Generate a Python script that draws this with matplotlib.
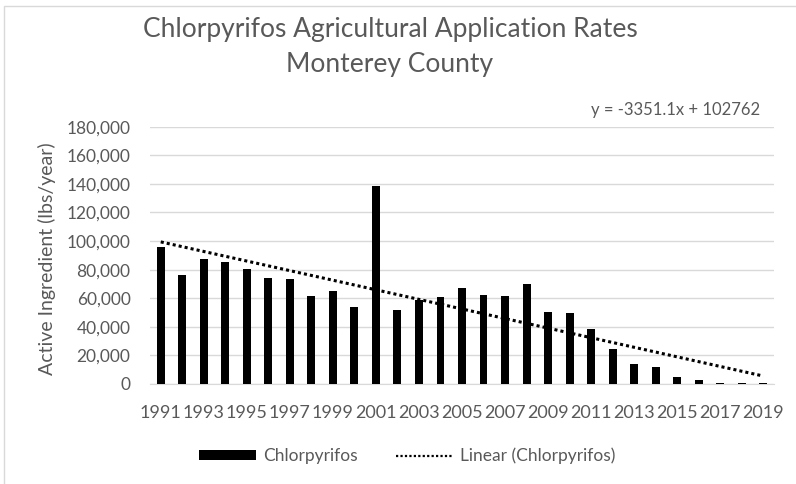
import matplotlib
matplotlib.use('Agg')
import matplotlib.pyplot as plt
from matplotlib.patches import Rectangle
import numpy as np

plt.rcParams['font.family'] = ['Lato', 'DejaVu Sans']

years = list(range(1991, 2020))
chlorpyrifos = [96000, 76600, 87500, 85000, 80300, 74500, 73800, 61500, 65400, 54000,
                138300, 51500, 59100, 60800, 67300, 62600, 61500, 70100, 50300, 49600,
                38400, 24400, 14000, 12100, 4900, 2800, 900, 1000, 900]
# excel trendline, x = 1..29
trend_slope = -3351.1
trend_intercept = 102762

gray = '#595959'
light = '#d9d9d9'

fig = plt.figure(figsize=(7.96, 4.84), dpi=100)
ax = fig.add_axes([150/796, 1-384/484, (774-150)/796, (384-126.7)/484])

x = np.arange(len(years))
bars = ax.bar(x, chlorpyrifos, width=0.37, color='black', label='Chlorpyrifos', zorder=3)
trend = trend_slope * (x + 1) + trend_intercept
line, = ax.plot(x, trend, color='black', linestyle=(0, (1, 1)), linewidth=2.2,
                label='Linear (Chlorpyrifos)', zorder=4)

ax.set_xlim(-0.5, len(years) - 0.5)
ax.set_ylim(0, 180000)
ax.set_yticks(np.arange(0, 180001, 20000))
ax.yaxis.set_major_formatter(lambda v, p: f'{v:,.0f}')
ax.set_xticks(x[::2], [str(y) for y in years[::2]])
ax.grid(axis='y', color=light, linewidth=1)
ax.set_axisbelow(True)
for s in ['top', 'right', 'left']:
    ax.spines[s].set_visible(False)
ax.spines['bottom'].set_color(light)
ax.tick_params(length=0, colors=gray)
ax.tick_params(axis='x', pad=15, labelsize=13)
ax.tick_params(axis='y', pad=14, labelsize=12.5)

fig.text(47/796, 1-259/484, 'Active Ingredient (lbs/year)', rotation=90,
         ha='center', va='center', color=gray, fontsize=14)

fig.text(390/796, 1-37/484, 'Chlorpyrifos Agricultural Application Rates',
         ha='center', va='baseline', color=gray, fontsize=19)
fig.text(390/796, 1-72/484, 'Monterey County',
         ha='center', va='baseline', color=gray, fontsize=19)

fig.text(760/796, 1-110/484, f'y = {trend_slope}x + {trend_intercept}',
         ha='right', va='center', color=gray, fontsize=12)

leg = fig.legend([bars, line], ['Chlorpyrifos', 'Linear (Chlorpyrifos)'],
                 loc='center', bbox_to_anchor=(407/796, 1-456/484), ncol=2, frameon=False,
                 handlelength=3.3, handleheight=0.55, handletextpad=0.4, columnspacing=2.2,
                 labelcolor=gray, fontsize=12.5)
leg.legend_handles[1].set_linewidth(1.6)

fig.patches.append(Rectangle((4/796, -0.1), 1.1, 1 - 6/484 + 0.1, transform=fig.transFigure,
                             fill=False, edgecolor=light, linewidth=1))

fig.savefig('out.png', dpi=100)
